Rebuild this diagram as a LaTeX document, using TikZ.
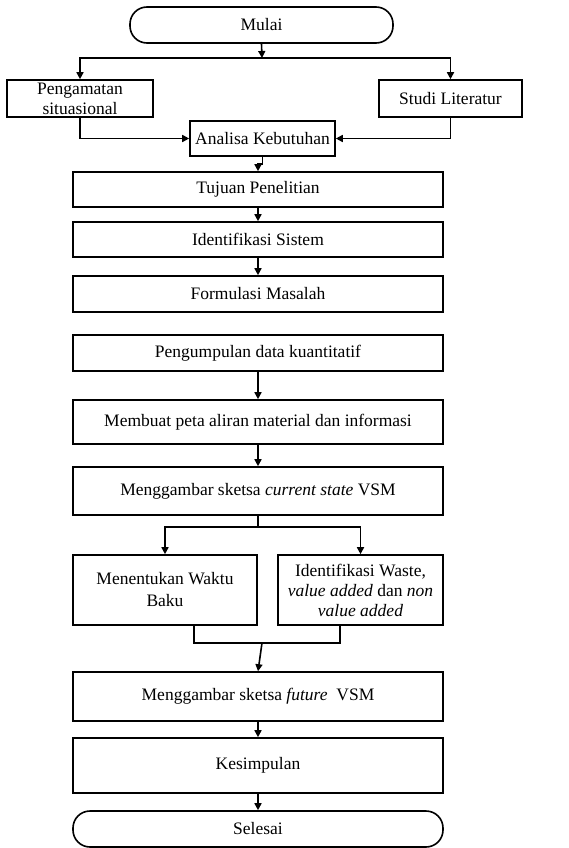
\documentclass[tikz,border=0pt]{standalone}
\usepackage{fontspec}
\setmainfont{Liberation Serif}
\usetikzlibrary{arrows.meta}
\begin{document}
\begin{tikzpicture}[x=1pt,y=-1pt, line width=1.6pt,
  box/.style={draw, rectangle, inner sep=0pt, align=center, font=\fontsize{17.5}{21}\selectfont},
  term/.style={box, rounded corners=17pt},
  arr/.style={-{Triangle[length=7pt,width=7pt]}},
  wide/.style={minimum width=370pt}
]
\useasboundingbox (0,0) rectangle (568,848);
\node[term, minimum width=263pt, minimum height=36pt] (mulai) at (261.5,25) {Mulai};
\node[box, minimum width=146pt, minimum height=37pt, font=\fontsize{17.5}{20}\selectfont] (peng) at (80,98.5) {Pengamatan\\situasional};
\node[box, minimum width=143pt, minimum height=37pt] (studi) at (450.5,98.5) {Studi Literatur};
\node[box, minimum width=145pt, minimum height=35pt] (analisa) at (262.5,138.5) {Analisa Kebutuhan};
\node[box, wide, minimum height=35pt] (tujuan) at (258,189.5) {Tujuan Penelitian};
\node[box, wide, minimum height=35pt] (ident) at (258,239.5) {Identifikasi Sistem};
\node[box, wide, minimum height=36pt] (formul) at (258,294) {Formulasi Masalah};
\node[box, wide, minimum height=36pt] (pengump) at (258,353) {Pengumpulan data kuantitatif};
\node[box, wide, minimum height=44pt] (membuat) at (258,422) {Membuat peta aliran material dan informasi};
\node[box, wide, minimum height=48pt] (current) at (258,491) {Menggambar sketsa \textit{current state} VSM};
\node[box, minimum width=184pt, minimum height=70pt, font=\fontsize{17.5}{22}\selectfont] (menentukan) at (165,590) {Menentukan Waktu\\Baku};
\node[box, minimum width=165pt, minimum height=70pt, font=\fontsize{17.5}{20}\selectfont] (waste) at (360.5,590) {Identifikasi Waste,\\\textit{value added} dan \textit{non}\\\textit{value added}};
\node[box, wide, minimum height=49pt] (future) at (258,696.5) {Menggambar sketsa \textit{future}~ VSM};
\node[box, wide, minimum height=55pt] (kesimpulan) at (258,765.5) {Kesimpulan};
\node[term, wide, minimum height=36pt] (selesai) at (258,829) {Selesai};

\coordinate (j1) at (262,58);
\draw[arr] (mulai.south) -- (j1);
\draw[arr] (j1) -| (peng.north);
\draw[arr] (j1) -| (studi.north);
\draw[arr] (peng.south) |- (analisa.west);
\draw[arr] (studi.south) |- (analisa.east);
\draw[arr] (analisa.south) -- ++(0,7) -| (tujuan.north);
\draw[arr] (tujuan) -- (ident);
\draw[arr] (ident) -- (formul);
\draw[arr] (pengump) -- (membuat);
\draw[arr] (membuat) -- (current);
\coordinate (j2) at (258,527);
\draw (current.south) -- (j2);
\draw[arr] (j2) -| (menentukan.north);
\draw[arr] (j2) -| (waste.north);
\coordinate (ma) at (194,643);
\coordinate (mb) at (340,643);
\draw (menentukan.south -| ma) -- (ma) -- (mb) -- (waste.south -| mb);
\coordinate (j3) at (262,643);
\draw[arr] (j3) -- (future.north);
\draw[arr] (future) -- (kesimpulan);
\draw[arr] (kesimpulan) -- (selesai);
\end{tikzpicture}
\end{document}
